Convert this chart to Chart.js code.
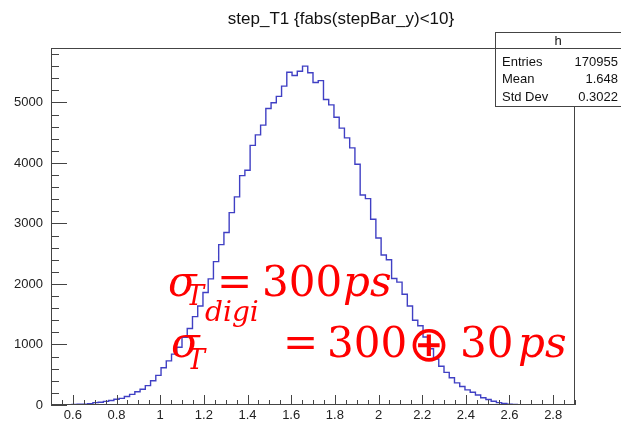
<!DOCTYPE html>
<html>
<head>
<meta charset="utf-8">
<script src="https://cdn.jsdelivr.net/npm/chart.js@4.4.1/dist/chart.umd.min.js"></script>
<style>
html, body { margin: 0; padding: 0; background: #fff; }
</style>
</head>
<body>
<canvas id="c" width="621" height="421"></canvas>
<script>
// histogram binning: 100 bins from 0.5 to 2.9
const title = 'step_T1 {fabs(stepBar_y)<10}'
const binLow = 0.5
const binWidth = 0.024
const counts = [
    0, 0, 0, 0, 10, 15, 15, 20, 40, 45,
    60, 75, 95, 110, 140, 175, 220, 260, 320, 400,
    490, 615, 730, 840, 955, 1120, 1265, 1460, 1635, 1860,
    2085, 2370, 2650, 2850, 3180, 3440, 3790, 3880, 4290, 4465,
    4625, 4900, 4995, 5100, 5270, 5500, 5445, 5515, 5600, 5490,
    5330, 5360, 5050, 4960, 4755, 4575, 4415, 4250, 3980, 3470,
    3410, 3070, 2760, 2480, 2400, 2090, 2030, 1830, 1635, 1400,
    1310, 1125, 930, 760, 640, 540, 450, 365, 305, 250,
    210, 165, 120, 90, 62, 40, 25, 14, 8, 5,
    3, 2, 0, 0, 0, 0, 0, 0, 0, 0
]
const xTicks = [0.6, 0.8, 1, 1.2, 1.4, 1.6, 1.8, 2, 2.2, 2.4, 2.6, 2.8]
const yTicks = [0, 1000, 2000, 3000, 4000, 5000]
const xRange = [0.5, 2.9]
const yRange = [0, 5900]
const statLabels = ['Entries', 'Mean', 'Std Dev']
const statValues = ['170955', '1.648', '0.3022']

const sans = '"Liberation Sans", Arial, Helvetica, sans-serif'
const serif = '"DejaVu Serif", serif'

// step outline: one point per bin edge
const points = []
for (let i = 0; i <= counts.length; i++) {
    points.push({x: binLow + i * binWidth, y: counts[Math.min(i, counts.length - 1)]})
}

function put(ctx, txt, x, y, size, italic, family){
    ctx.font = (italic ? 'italic ' : '') + size + 'px ' + (family || serif)
    ctx.fillText(txt, x, y)
}

const rootLook = {
    id: 'rootLook',
    afterDatasetsDraw(chart){
        const {ctx, chartArea: a, scales: {x, y}} = chart
        ctx.save()

        // red annotation
        ctx.fillStyle = '#ff0000'
        ctx.textBaseline = 'alphabetic'
        ctx.textAlign = 'left'
        put(ctx, 'σ', 168, 296, 42, true)
        put(ctx, 'T', 186, 305, 27, true)
        put(ctx, '=', 217, 296, 42, false)
        put(ctx, '300', 262, 296, 42, false)
        put(ctx, 'ps', 343, 296, 42, true)
        put(ctx, 'σ', 171, 357, 42, true)
        put(ctx, 'T', 187, 369, 27, true)
        put(ctx, 'digi', 205, 321, 28, true)
        put(ctx, '=', 283, 357, 42, false)
        put(ctx, '300', 327, 357, 42, false)
        put(ctx, '⊕', 408, 361, 50, false, '"DejaVu Sans", sans-serif')
        put(ctx, '30', 460, 357, 42, false)
        put(ctx, 'ps', 518, 357, 42, true)

        // frame and inward ticks
        ctx.strokeStyle = '#444'
        ctx.lineWidth = 1
        ctx.strokeRect(a.left + 0.5, a.top + 0.5, a.width - 1, a.height - 1)
        ctx.beginPath()
        for (let v = 0.5; v <= 2.9 + 1e-9; v += 0.05) {
            const px = Math.round(x.getPixelForValue(v)) + 0.5
            const major = xTicks.some(t => Math.abs(t - v) < 1e-6)
            ctx.moveTo(px, a.bottom)
            ctx.lineTo(px, a.bottom - (major ? 10 : 5))
        }
        for (let v = 0; v <= yRange[1]; v += 200) {
            const py = Math.round(y.getPixelForValue(v)) + 0.5
            const major = v % 1000 === 0
            ctx.moveTo(a.left, py)
            ctx.lineTo(a.left + (major ? 16 : 8), py)
        }
        ctx.stroke()

        // title
        ctx.fillStyle = '#111'
        ctx.font = '17px ' + sans
        ctx.textAlign = 'center'
        ctx.fillText(title, 341, 24)

        // stats box
        ctx.fillStyle = '#fff'
        ctx.fillRect(495.5, 32.5, 140, 74)
        ctx.strokeRect(495.5, 32.5, 140, 74)
        ctx.beginPath()
        ctx.moveTo(495.5, 48.5)
        ctx.lineTo(635, 48.5)
        ctx.stroke()
        ctx.fillStyle = '#111'
        ctx.font = '13px ' + sans
        ctx.textBaseline = 'middle'
        ctx.fillText('h', 558, 41)
        statLabels.forEach((l, i) => {
            const ty = 62 + i * 17.5
            ctx.textAlign = 'left'
            ctx.fillText(l, 502, ty)
            ctx.textAlign = 'right'
            ctx.fillText(statValues[i], 618, ty)
        })
        ctx.restore()
    }
}

new Chart(document.getElementById('c'), {
    type: 'line',
    data: {
        datasets: [{
            data: points,
            stepped: 'before',
            borderColor: '#4040c4',
            borderWidth: 1.4,
            pointRadius: 0,
            fill: false
        }]
    },
    options: {
        responsive: false,
        animation: false,
        devicePixelRatio: 1,
        layout: {padding: {top: 48, right: 46, left: 0, bottom: 0}},
        plugins: {legend: {display: false}, tooltip: {enabled: false}, title: {display: false}},
        scales: {
            x: {
                type: 'linear',
                min: xRange[0],
                max: xRange[1],
                afterBuildTicks: s => { s.ticks = xTicks.map(v => ({value: v})) },
                afterFit: s => { s.height = 16 },
                grid: {display: false, drawTicks: false},
                border: {display: false},
                ticks: {
                    padding: 3,
                    autoSkip: false,
                    maxRotation: 0,
                    color: '#222',
                    font: {family: sans, size: 13},
                    callback: v => String(Math.round(v * 10) / 10)
                }
            },
            y: {
                min: yRange[0],
                max: yRange[1],
                afterBuildTicks: s => { s.ticks = yTicks.map(v => ({value: v})) },
                afterFit: s => { s.width = 51 },
                grid: {display: false, drawTicks: false},
                border: {display: false},
                ticks: {
                    padding: 8,
                    color: '#222',
                    font: {family: sans, size: 13},
                    callback: v => String(v)
                }
            }
        }
    },
    plugins: [rootLook]
})
</script>
</body>
</html>
